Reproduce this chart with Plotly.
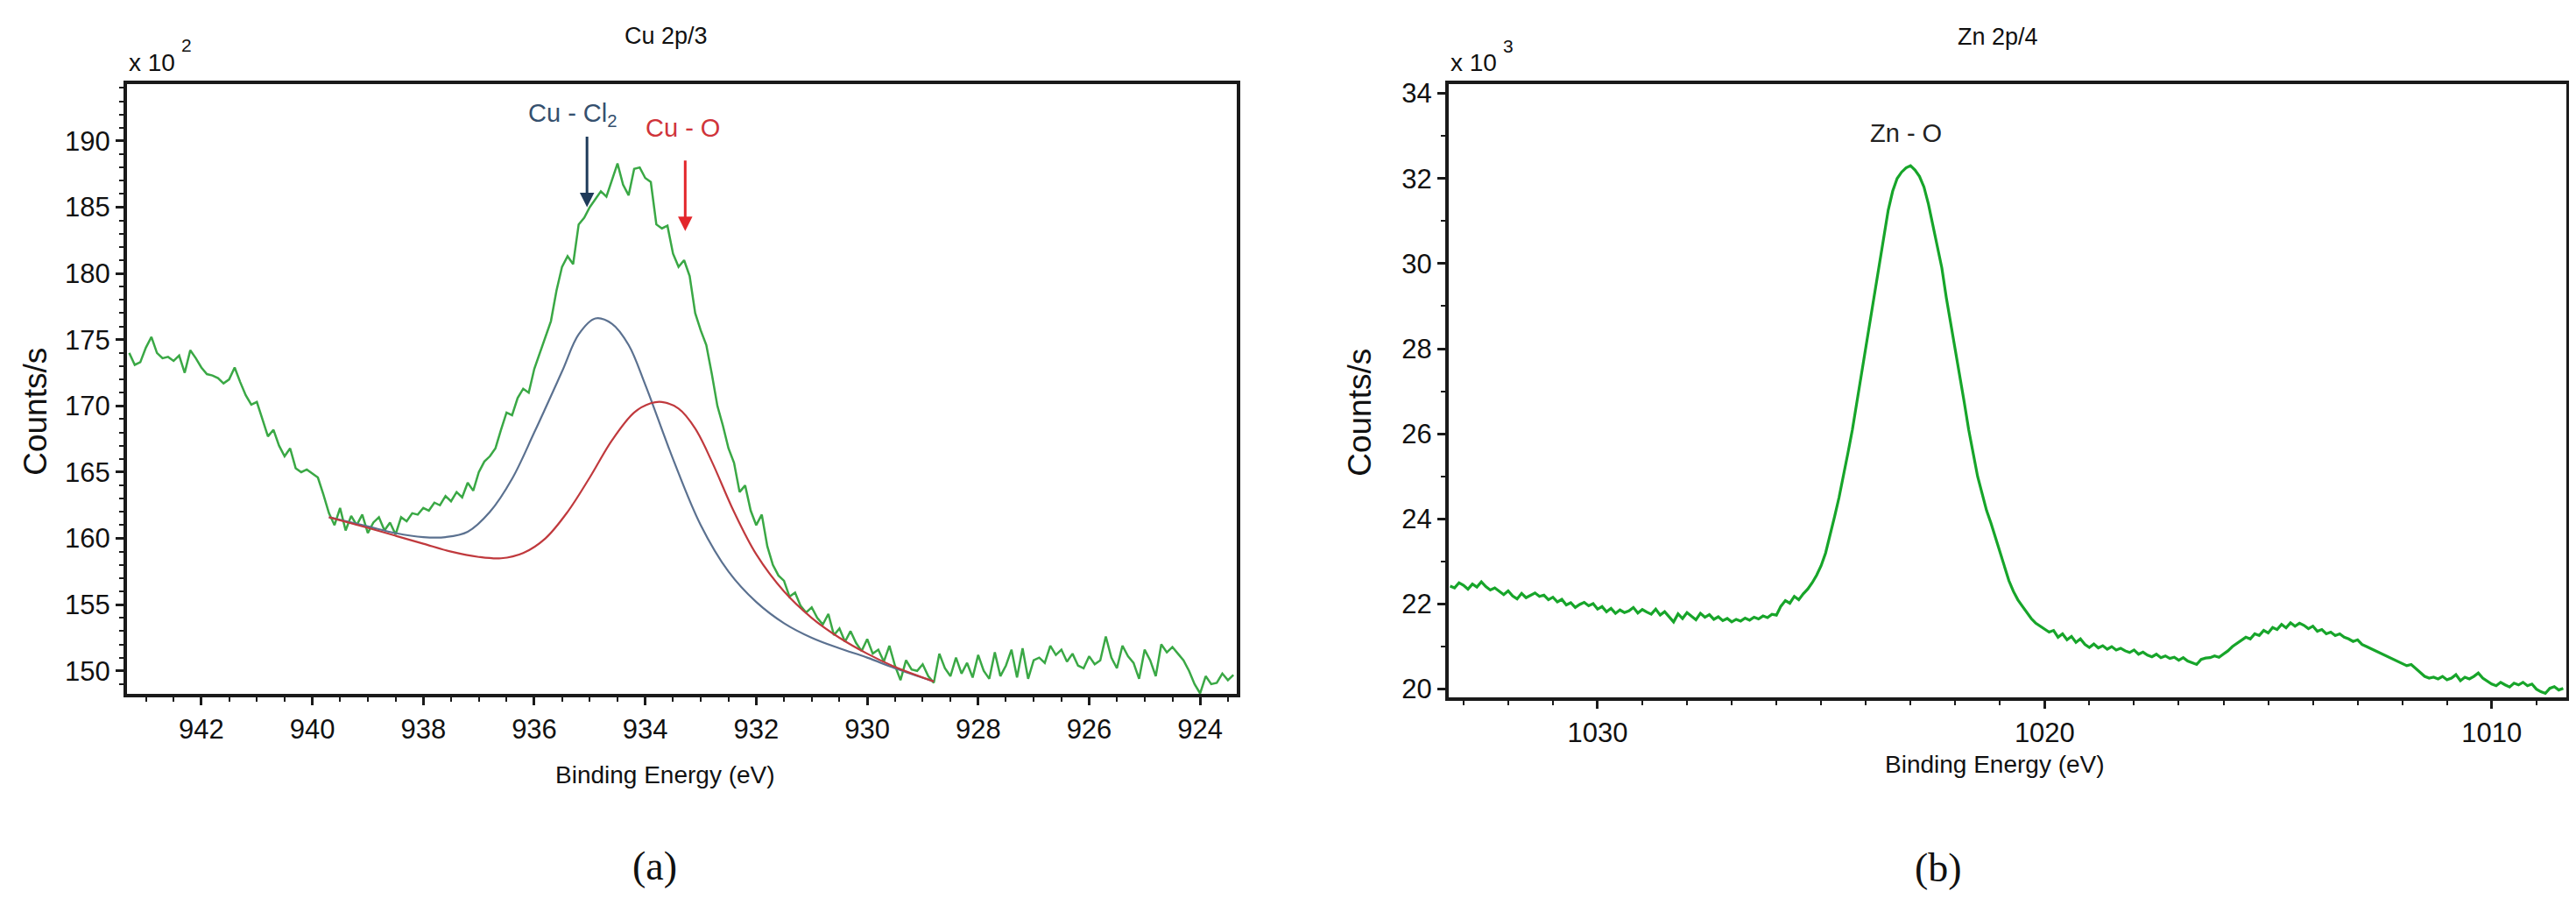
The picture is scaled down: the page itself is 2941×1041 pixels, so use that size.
import numpy as np
import plotly.graph_objects as go

# ---------------- data ----------------
# Cu 2p/3 spectrum (x10^2 counts/s), binding energy from 943.3 eV down in 0.1 eV steps
cu_start, cu_step = 943.3, 0.1
cu_counts = [
    174.0, 173.1, 173.3, 174.4, 175.2, 174.0, 173.6, 173.7, 173.4, 173.8,
    172.5, 174.2, 173.6, 172.9, 172.4, 172.3, 172.1, 171.7, 172.0, 172.9,
    171.8, 170.8, 170.1, 170.3, 169.0, 167.7, 168.2, 167.0, 166.2, 166.8,
    165.3, 165.0, 165.2, 164.9, 164.6, 163.3, 161.9, 161.0, 162.3, 160.6,
    161.7, 161.0, 161.8, 160.4, 161.2, 161.6, 160.6, 161.2, 160.3, 161.6,
    161.3, 161.9, 161.8, 162.3, 162.1, 162.7, 162.5, 163.2, 162.8, 163.5,
    163.1, 164.2, 163.6, 165.0, 165.8, 166.2, 166.8, 168.2, 169.5, 169.3,
    170.6, 171.3, 171.0, 172.8, 174.0, 175.3, 176.4, 178.7, 180.5, 181.3,
    180.7, 183.7, 184.2, 185.0, 185.6, 186.2, 185.8, 187.0, 188.3, 186.7,
    185.9, 187.9, 188.0, 187.2, 186.9, 183.7, 183.4, 183.6, 181.5, 180.5,
    181.0, 179.8, 177.0, 175.7, 174.6, 172.4, 170.0, 168.5, 166.8, 165.7,
    163.5, 164.0, 162.1, 161.0, 161.8, 159.4, 158.0, 157.2, 156.8, 155.6,
    155.9, 154.9, 154.4, 154.8, 154.0, 153.5, 154.3, 152.7, 153.2, 152.2,
    153.0, 152.1, 151.5, 152.4, 151.3, 151.6, 150.7, 151.9, 150.4, 149.3,
    150.8, 150.1, 150.0, 150.5, 149.6, 149.1, 151.3, 150.2, 149.6, 151.0,
    149.8, 150.6, 149.5, 151.2, 150.0, 149.4, 151.4, 149.6, 150.4, 151.6,
    149.5, 151.7, 149.4, 150.8, 151.0, 150.6, 151.9, 151.2, 151.6, 150.7,
    151.3, 150.4, 150.2, 151.1, 150.5, 150.8, 152.6, 151.0, 150.2, 151.9,
    151.1, 150.6, 149.4, 151.6, 150.8, 149.6, 152.0, 151.4, 151.8, 151.3,
    150.8, 150.0, 149.0, 148.3, 149.6, 149.0, 149.1, 149.8, 149.3, 149.7,
]

# fitted components (Cu-Cl2 in blue, Cu-O in red)
cucl_be = [939.7, 939.0, 938.5, 938.0, 937.6, 937.2, 936.8, 936.4, 936.0, 935.5,
           935.2, 934.9, 934.6, 934.3, 934.0, 933.5, 933.0, 932.5, 932.0, 931.5,
           931.0, 930.5, 930.0, 929.5, 928.8]
cucl_fit = [161.6, 160.9, 160.4, 160.1, 160.1, 160.5, 162.0, 164.5, 168.0, 172.6,
            175.4, 176.6, 176.2, 174.6, 171.6, 166.0, 161.0, 157.5, 155.2, 153.6,
            152.5, 151.7, 151.0, 150.2, 149.2]
cuo_be = [939.7, 939.0, 938.5, 938.0, 937.5, 937.0, 936.6, 936.2, 935.8, 935.4,
          935.0, 934.6, 934.2, 933.9, 933.7, 933.4, 933.1, 932.8, 932.4, 932.0,
          931.5, 931.0, 930.5, 930.0, 929.5, 928.8]
cuo_fit = [161.6, 160.8, 160.2, 159.6, 159.0, 158.6, 158.5, 158.9, 160.0, 162.0,
           164.6, 167.4, 169.5, 170.2, 170.3, 169.8, 168.3, 165.8, 162.0, 158.8,
           156.0, 154.0, 152.5, 151.3, 150.3, 149.2]

# Zn 2p/4 spectrum (x10^3 counts/s), binding energy from 1033.3 eV down in 0.1 eV steps
zn_start, zn_step = 1033.3, 0.1
zn_counts = [
    22.42, 22.38, 22.50, 22.44, 22.35, 22.47, 22.40, 22.52, 22.41, 22.33,
    22.38, 22.30, 22.22, 22.31, 22.19, 22.12, 22.25, 22.15, 22.20, 22.26,
    22.18, 22.21, 22.10, 22.16, 22.05, 22.11, 21.98, 22.03, 21.92, 21.99,
    22.04, 21.96, 22.01, 21.88, 21.94, 21.82, 21.90, 21.78, 21.86, 21.80,
    21.84, 21.92, 21.79, 21.87, 21.81, 21.76, 21.88, 21.74, 21.82, 21.70,
    21.58, 21.77, 21.66, 21.80, 21.72, 21.63, 21.78, 21.69, 21.75, 21.64,
    21.70, 21.61, 21.66, 21.58, 21.64, 21.60, 21.67, 21.62, 21.69, 21.65,
    21.72, 21.68, 21.76, 21.74, 21.95, 22.08, 22.02, 22.18, 22.10, 22.24,
    22.35, 22.50, 22.68, 22.90, 23.20, 23.60, 24.05, 24.50, 25.00, 25.55,
    26.10, 26.75, 27.40, 28.05, 28.70, 29.40, 30.05, 30.70, 31.25, 31.70,
    32.00, 32.15, 32.25, 32.30, 32.20, 32.05, 31.80, 31.40, 30.90, 30.45,
    29.90, 29.20, 28.60, 28.00, 27.35, 26.75, 26.10, 25.55, 25.00, 24.60,
    24.20, 23.90, 23.55, 23.20, 22.85, 22.55, 22.30, 22.10, 21.95, 21.80,
    21.66, 21.55, 21.48, 21.40, 21.34, 21.38, 21.22, 21.30, 21.16, 21.24,
    21.10, 21.18, 21.05, 20.98, 21.06, 20.97, 21.02, 20.94, 21.00, 20.92,
    20.96, 20.90, 20.86, 20.92, 20.82, 20.87, 20.80, 20.76, 20.82, 20.74,
    20.78, 20.72, 20.75, 20.68, 20.74, 20.66, 20.62, 20.58, 20.70, 20.73,
    20.74, 20.78, 20.75, 20.82, 20.90, 21.00, 21.08, 21.16, 21.22, 21.18,
    21.30, 21.26, 21.38, 21.32, 21.45, 21.40, 21.52, 21.44, 21.56, 21.48,
    21.55, 21.50, 21.42, 21.48, 21.36, 21.40, 21.30, 21.34, 21.26, 21.30,
    21.22, 21.18, 21.12, 21.16, 21.05, 21.00, 20.95, 20.90, 20.84, 20.80,
    20.74, 20.70, 20.64, 20.60, 20.55, 20.58, 20.48, 20.40, 20.30, 20.26,
    20.28, 20.24, 20.30, 20.22, 20.26, 20.34, 20.20, 20.28, 20.24, 20.30,
    20.38, 20.26, 20.18, 20.12, 20.08, 20.16, 20.10, 20.05, 20.14, 20.10,
    20.16, 20.08, 20.12, 20.00, 19.94, 19.90, 20.02, 20.06, 19.98, 20.02,
]

cu_ticks = [942, 940, 938, 936, 934, 932, 930, 928, 926, 924]
cu_yticks = [150, 155, 160, 165, 170, 175, 180, 185, 190]
zn_ticks = [1030, 1020, 1010]
zn_yticks = [20, 22, 24, 26, 28, 30, 32, 34]

cu_be = np.round(cu_start - cu_step * np.arange(len(cu_counts)), 2)
zn_be = np.round(zn_start - zn_step * np.arange(len(zn_counts)), 2)

# ---------------- figure ----------------
W, H = 2941, 1041
def px(x):
    return x / W
def py(y):
    return 1 - y / H

SANS = "Liberation Sans, Arial, sans-serif"
SERIF = "Liberation Serif, DejaVu Serif, serif"
AX = "#1a1a1a"

fig = go.Figure()
fig.add_trace(go.Scatter(x=cu_be, y=cu_counts, mode="lines",
                         line=dict(color="#3aa845", width=2.5), xaxis="x", yaxis="y"))
fig.add_trace(go.Scatter(x=cucl_be, y=cucl_fit, mode="lines",
                         line=dict(color="#5b7190", width=2.2, shape="spline"), xaxis="x", yaxis="y"))
fig.add_trace(go.Scatter(x=cuo_be, y=cuo_fit, mode="lines",
                         line=dict(color="#c0393d", width=2.2, shape="spline"), xaxis="x", yaxis="y"))
fig.add_trace(go.Scatter(x=zn_be, y=zn_counts, mode="lines",
                         line=dict(color="#17a52a", width=3.2), xaxis="x2", yaxis="y2"))

def axis_common():
    return dict(showline=True, linewidth=4, linecolor=AX, mirror=True,
                ticks="outside", ticklen=9, tickwidth=3, tickcolor=AX,
                showgrid=False, zeroline=False,
                tickfont=dict(family=SANS, size=31, color="#111"))

xa = axis_common()
xa.update(domain=[px(137), px(1404)], range=[943.34, 923.34], tickmode="array",
          tickvals=cu_ticks, anchor="y",
          minor=dict(ticks="outside", ticklen=5, tickwidth=2, tickcolor=AX, dtick=0.5, tick0=0))
ya = axis_common()
ya.update(domain=[py(789), py(83)], range=[148.24, 194.3], tickmode="array",
          tickvals=cu_yticks, anchor="x",
          minor=dict(ticks="outside", ticklen=5, tickwidth=2, tickcolor=AX, dtick=1, tick0=0))
xa2 = axis_common()
xa2.update(domain=[px(1646), px(2922)], range=[1033.33, 1008.33], tickmode="array",
           tickvals=zn_ticks, anchor="y2",
           minor=dict(ticks="outside", ticklen=5, tickwidth=2, tickcolor=AX, dtick=1, tick0=0))
ya2 = axis_common()
ya2.update(domain=[py(793), py(83)], range=[19.8, 34.22], tickmode="array",
           tickvals=zn_yticks, anchor="x2",
           minor=dict(ticks="outside", ticklen=5, tickwidth=2, tickcolor=AX, dtick=1, tick0=0))

ann = []
def text(x, y, s, size, family=SANS, color="#111", angle=0, xanchor="center"):
    ann.append(dict(x=px(x), y=py(y), xref="paper", yref="paper", text=s, showarrow=False,
                    font=dict(family=family, size=size, color=color), textangle=angle,
                    xanchor=xanchor, yanchor="middle"))

# titles
text(752, 27, "Cu 2p/3", 27)
text(2273, 28, "Zn 2p/4", 27)
# exponent labels
text(137, 58, "x 10", 28, xanchor="left")
text(205, 38, "2", 21)
text(1646, 58, "x 10", 28, xanchor="left")
text(1714, 39, "3", 21)
# axis titles
text(33, 462, "Counts/s", 37, angle=-90)
text(1545, 463, "Counts/s", 37, angle=-90)
text(751, 882, "Binding Energy (eV)", 28)
text(2269, 870, "Binding Energy (eV)", 28)
# panel labels
text(739, 988, "(a)", 46, family=SERIF)
text(2205, 990, "(b)", 46, family=SERIF)
# peak labels
text(646, 119, "Cu - Cl<sub>2</sub>", 29, color="#35506e")
text(771, 134, "Cu - O", 29, color="#d0343a")
text(2168, 140, "Zn - O", 29, color="#222")

# arrows
ann.append(dict(x=935.05, y=185.0, xref="x", yref="y", ax=0, ay=-82, axref="pixel", ayref="pixel",
                showarrow=True, arrowhead=2, arrowsize=1.1, arrowwidth=3, arrowcolor="#1f3b5a", text=""))
ann.append(dict(x=933.28, y=183.2, xref="x", yref="y", ax=0, ay=-82, axref="pixel", ayref="pixel",
                showarrow=True, arrowhead=2, arrowsize=1.1, arrowwidth=3, arrowcolor="#e3262b", text=""))

fig.update_layout(width=W, height=H, margin=dict(l=0, r=0, t=0, b=0),
                  paper_bgcolor="white", plot_bgcolor="white", showlegend=False,
                  xaxis=xa, yaxis=ya, xaxis2=xa2, yaxis2=ya2, annotations=ann)

fig.write_html("out.html")
